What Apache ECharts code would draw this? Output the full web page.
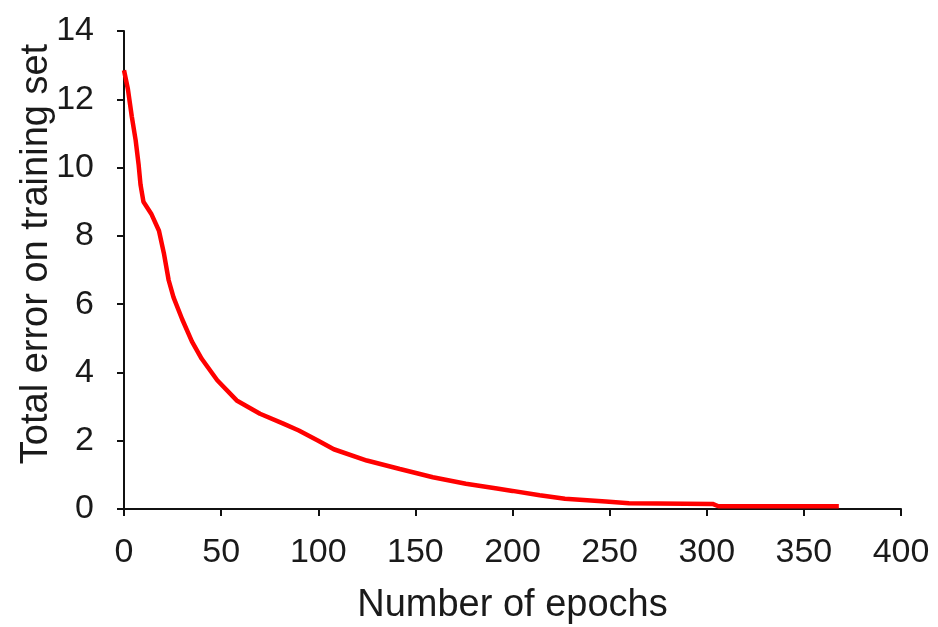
<!DOCTYPE html>
<html>
<head>
<meta charset="utf-8">
<script src="https://cdn.jsdelivr.net/npm/echarts@6/dist/echarts.min.js"></script>
<style>
  html, body { margin: 0; padding: 0; background: #fff; }
  #chart { width: 938px; height: 627px; }
</style>
</head>
<body>
<div id="chart"></div>
<script>
// training error curve
const epochs = [0, 2, 4, 6, 7.5, 8.5, 10, 14, 18, 20.5, 23, 25.5, 30, 35, 40, 48, 58, 70, 82, 90,
  100, 108, 125, 142, 159, 176, 192, 200, 214, 227, 248, 260, 303, 306, 368]
const errors = [12.85, 12.3, 11.5, 10.8, 10.1, 9.5, 9.0, 8.65, 8.15, 7.5, 6.7, 6.2, 5.55, 4.9, 4.4, 3.77, 3.18, 2.79, 2.5, 2.3,
  2.0, 1.75, 1.42, 1.17, 0.93, 0.74, 0.6, 0.53, 0.4, 0.3, 0.22, 0.17, 0.15, 0.08, 0.08]

const xTicks = [0, 50, 100, 150, 200, 250, 300, 350, 400]
const yTicks = [0, 2, 4, 6, 8, 10, 12, 14]

const font = 'Liberation Sans, Arial, sans-serif'
const ink = '#1a1a1a'

const chart = echarts.init(document.getElementById('chart'), null, { renderer: 'canvas' })

const axisCommon = {
  type: 'value',
  nameLocation: 'middle',
  nameMoveOverlap: false,
  nameTextStyle: { fontFamily: font, fontSize: 38, color: ink },
  axisLine: { show: true, lineStyle: { color: '#111', width: 2 } },
  axisTick: { show: true, inside: false, length: 7, lineStyle: { color: '#111', width: 2 } },
  splitLine: { show: false },
  axisLabel: { fontFamily: font, fontSize: 34, color: ink, showMinLabel: true, showMaxLabel: true }
}

chart.setOption({
  animation: false,
  grid: { left: 124, right: 37, top: 31, bottom: 118, outerBoundsMode: 'none' },
  xAxis: Object.assign({}, axisCommon, {
    name: 'Number of epochs',
    nameGap: 78,
    min: xTicks[0],
    max: xTicks[xTicks.length - 1],
    interval: xTicks[1] - xTicks[0],
    axisLabel: Object.assign({}, axisCommon.axisLabel, { margin: 27 })
  }),
  yAxis: Object.assign({}, axisCommon, {
    name: 'Total error on training set',
    nameGap: 68,
    nameTextStyle: Object.assign({}, axisCommon.nameTextStyle, { padding: [0, 0, 0, 32] }),
    min: yTicks[0],
    max: yTicks[yTicks.length - 1],
    interval: yTicks[1] - yTicks[0],
    axisLabel: Object.assign({}, axisCommon.axisLabel, { margin: 30 })
  }),
  series: [{
    type: 'line',
    data: epochs.map((e, i) => [e, errors[i]]),
    showSymbol: false,
    smooth: false,
    lineStyle: { color: '#ff0000', width: 4.5 },
    itemStyle: { color: '#ff0000' }
  }]
})
</script>
</body>
</html>
